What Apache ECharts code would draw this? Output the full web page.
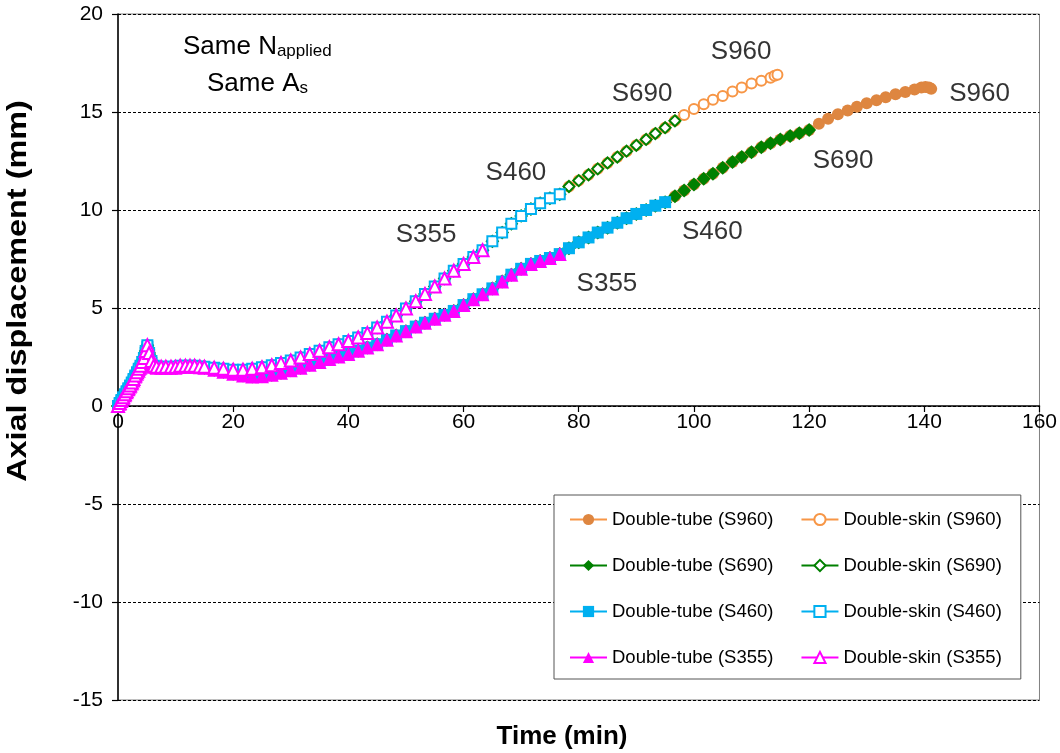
<!DOCTYPE html>
<html>
<head>
<meta charset="utf-8">
<script src="https://cdn.jsdelivr.net/npm/echarts@6/dist/echarts.min.js"></script>
<style>
html,body{margin:0;padding:0;background:#fff;}
#chart{width:1060px;height:753px;}
</style>
</head>
<body>
<div id="chart"></div>
<script>
// ---- Data ----
const xTicks = [0, 20, 40, 60, 80, 100, 120, 140, 160];
const yTicks = [-15, -10, -5, 0, 5, 10, 15, 20];

// Double-tube columns: shared time / displacement path (min, mm)
const tubeTime = [0,0.3,0.6,0.9,1.2,1.5,1.8,2.1,2.4,2.7,3,3.3,3.6,3.9,4.2,4.5,4.8,5.1,5.4,5.8,6.2,6.7,7.5,8.3,9.2,10,10.8,11.7,12.5,13.3,14.2,15,16.7,18.3,20,21.7,23.3,
  25,26.7,28.3,30,31.7,33.3,35,36.7,38.3,40,41.7,43.3,45,46.7,48.3,50,51.7,53.3,55,56.7,58.3,60,61.7,63.3,
  65,66.7,68.3,70,71.7,73.3,75,76.7,78.3,80,81.7,83.3,85,86.7,88.3,90,91.7,93.3,95,96.7,98.3,100,101.7,103.3,
  105,106.7,108.3,110,111.7,113.3,115,116.7,118.3,120,121.7,123.3,125,126.7,128.3,130,131.7,133.3,135,136.7,138.3,
  139.5,140.2,140.8,141.2];
const tubeDisp = [0,0.12,0.25,0.4,0.55,0.7,0.85,1.0,1.15,1.3,1.5,1.65,1.8,1.95,2.1,2.3,2.7,3.0,2.6,2.2,2.0,1.95,1.95,1.95,1.95,1.95,2.0,2.0,2.0,2.0,1.98,1.95,1.85,1.75,1.65,1.55,1.5,
  1.52,1.6,1.7,1.82,1.95,2.1,2.25,2.4,2.52,2.65,2.82,2.98,3.15,3.38,3.6,3.82,4.05,4.25,4.45,4.65,4.85,5.15,5.45,5.7,
  6.0,6.35,6.7,7.0,7.25,7.4,7.55,7.75,8.05,8.35,8.6,8.85,9.1,9.35,9.58,9.8,10.0,10.22,10.4,10.7,11.0,11.3,11.6,11.85,
  12.15,12.45,12.7,12.95,13.2,13.4,13.6,13.78,13.92,14.08,14.4,14.65,14.88,15.08,15.27,15.45,15.6,15.75,15.9,16.02,16.15,
  16.25,16.28,16.25,16.18];

// Double-skin columns: shared time / displacement path (min, mm)
const skinTime = [0,0.3,0.6,0.9,1.2,1.5,1.8,2.1,2.4,2.7,3,3.3,3.6,3.9,4.2,4.5,4.8,5.1,5.4,5.8,6.2,6.7,7.5,8.3,9.2,10,10.8,11.7,12.5,13.3,14.2,15,16.7,18.3,20,21.7,23.3,
  25,26.7,28.3,30,31.7,33.3,35,36.7,38.3,40,41.7,43.3,45,46.7,48.3,50,51.7,53.3,55,56.7,58.3,60,61.7,63.3,
  65,66.7,68.3,70,71.7,73.3,75,76.7,78.3,80,81.7,83.3,85,86.7,88.3,90,91.7,93.3,95,96.7,98.3,100,101.7,103.3,
  105,106.7,108.3,110,111.7,113.3,114,114.5];
const skinDisp = [0,0.15,0.3,0.45,0.6,0.75,0.9,1.05,1.2,1.38,1.55,1.72,1.9,2.05,2.25,2.45,2.8,3.1,2.7,2.3,2.05,2.0,2.0,2.0,2.0,2.0,2.05,2.05,2.05,2.05,2.02,2.0,1.95,1.9,1.85,1.85,1.9,
  1.98,2.08,2.2,2.32,2.48,2.65,2.82,3.0,3.15,3.32,3.5,3.72,4.0,4.3,4.62,4.98,5.35,5.72,6.1,6.5,6.9,7.25,7.6,7.95,
  8.4,8.85,9.3,9.7,10.05,10.35,10.6,10.8,11.2,11.5,11.8,12.1,12.4,12.7,13.0,13.3,13.6,13.9,14.2,14.55,14.85,15.15,15.4,15.62,
  15.82,16.05,16.25,16.45,16.6,16.75,16.85,16.9];

// End time of each test (min)
const grades = ['S960', 'S690', 'S460', 'S355'];
const tubeEnd = [141.2, 120, 95, 76.7];
const skinEnd = [114.5, 96.7, 76.7, 63.3];

// Curve labels (data coordinates)
const labelText = ['S960', 'S690', 'S460', 'S355', 'S960', 'S690', 'S460', 'S355'];
const labelT = [108.2, 91.0, 69.1, 53.5, 149.6, 125.9, 103.2, 84.9];
const labelY = [18.05, 15.95, 11.9, 8.72, 15.95, 12.5, 8.88, 6.22];

// ---- Styles ----
const font = "'Liberation Sans', Arial, sans-serif";
const tubeStyle = {
  S960: {line: '#F79646', fill: '#DE8640', symbol: 'circle', size: 12},
  S690: {line: '#008000', fill: '#008000', symbol: 'diamond', size: 14},
  S460: {line: '#00B0F0', fill: '#00B0F0', symbol: 'rect', size: 12},
  S355: {line: '#FF00FF', fill: '#FF00FF', symbol: 'triangle', size: 14}
};
const skinStyle = {
  S960: {line: '#F79646', symbol: 'emptyCircle', size: 10},
  S690: {line: '#008000', symbol: 'emptyDiamond', size: 11},
  S460: {line: '#00B0F0', symbol: 'emptyRect', size: 10},
  S355: {line: '#FF00FF', symbol: 'emptyTriangle', size: 12}
};

function pts(time, disp, end) {
  const out = [];
  for (let i = 0; i < time.length; i++) if (time[i] <= end + 1e-9) out.push([time[i], disp[i]]);
  return out;
}

const series = [];
const legendNames = [];
grades.forEach((g, k) => {
  const ts = tubeStyle[g], ss = skinStyle[g];
  const tn = 'Double-tube (' + g + ')', sn = 'Double-skin (' + g + ')';
  legendNames.push(tn, sn);
  series.push({
    name: tn, type: 'line', data: pts(tubeTime, tubeDisp, tubeEnd[k]),
    symbol: ts.symbol, symbolSize: ts.size, showAllSymbol: true,
    lineStyle: {color: ts.line, width: 1.5},
    itemStyle: {color: ts.fill, borderColor: ts.fill, borderWidth: 0}
  });
  series.push({
    name: sn, type: 'line', data: pts(skinTime, skinDisp, skinEnd[k]),
    symbol: ss.symbol, symbolSize: ss.size, showAllSymbol: true,
    lineStyle: {color: ss.line, width: 1.5},
    itemStyle: {color: ss.line, borderColor: ss.line, borderWidth: 1.5}
  });
});

series.push({
  name: 'labels', type: 'scatter', symbolSize: 0, silent: true, z: 10,
  data: labelT.map((t, i) => ({value: [t, labelY[i]], name: labelText[i]})),
  label: {show: true, position: 'inside', formatter: p => p.name,
          fontSize: 26, color: '#000', fontFamily: font}
});

const chart = echarts.init(document.getElementById('chart'), null, {renderer: 'canvas'});
chart.setOption({
  animation: false,
  backgroundColor: '#fff',
  grid: {left: 118, right: 15, top: 14, bottom: 53, show: true, borderColor: '#808080', borderWidth: 1},
  xAxis: {
    type: 'value', min: xTicks[0], max: xTicks[xTicks.length - 1], interval: 20,
    position: 'bottom', offset: -294,
    axisLine: {onZero: false, lineStyle: {color: '#000', width: 1.5}},
    axisTick: {show: true, inside: false, length: 6, lineStyle: {color: '#000', width: 1.2}},
    axisLabel: {fontSize: 21, color: '#000', fontFamily: font, margin: 6},
    splitLine: {show: false}
  },
  yAxis: {
    type: 'value', min: yTicks[0], max: yTicks[yTicks.length - 1], interval: 5,
    axisLine: {show: true, onZero: false, lineStyle: {color: '#000', width: 1.5}},
    axisTick: {show: true, inside: false, length: 6, lineStyle: {color: '#000', width: 1.2}},
    axisLabel: {fontSize: 21, color: '#000', fontFamily: font, margin: 15},
    splitLine: {show: true, lineStyle: {color: '#000', width: 1, type: [3, 2]}}
  },
  legend: {
    data: legendNames, left: 554, top: 495, width: 445, orient: 'horizontal',
    itemWidth: 37, itemHeight: 14, itemGap: 27, padding: [15, 19, 12, 15],
    backgroundColor: '#fff', borderColor: '#555', borderWidth: 1,
    textStyle: {fontSize: 18.5, color: '#000', fontFamily: font, padding: [0, 2, 0, 0]},
    selectedMode: false
  },
  graphic: [
    {type: 'text', x: 562, y: 737, silent: true,
     style: {text: 'Time (min)', font: 'bold 26px ' + font, fill: '#000', textAlign: 'center', textVerticalAlign: 'middle'}},
    {type: 'text', x: 19, y: 291, rotation: Math.PI / 2, scaleX: 1.2, silent: true,
     style: {text: 'Axial displacement (mm)', font: 'bold 27px ' + font, fill: '#000', textAlign: 'center', textVerticalAlign: 'middle'}},
    {type: 'text', x: 183, y: 45, silent: true,
     style: {text: '{m|Same N}{s|applied}', textVerticalAlign: 'middle',
       rich: {m: {fontSize: 26, fontFamily: font, fill: '#000', color: '#000', verticalAlign: 'bottom', lineHeight: 30},
              s: {fontSize: 17, fontFamily: font, fill: '#000', color: '#000', verticalAlign: 'bottom', lineHeight: 26}}}},
    {type: 'text', x: 207, y: 82, silent: true,
     style: {text: '{m|Same A}{s|s}', textVerticalAlign: 'middle',
       rich: {m: {fontSize: 26, fontFamily: font, fill: '#000', color: '#000', verticalAlign: 'bottom', lineHeight: 30},
              s: {fontSize: 17, fontFamily: font, fill: '#000', color: '#000', verticalAlign: 'bottom', lineHeight: 26}}}}
  ],
  series: series
});
</script>
</body>
</html>
